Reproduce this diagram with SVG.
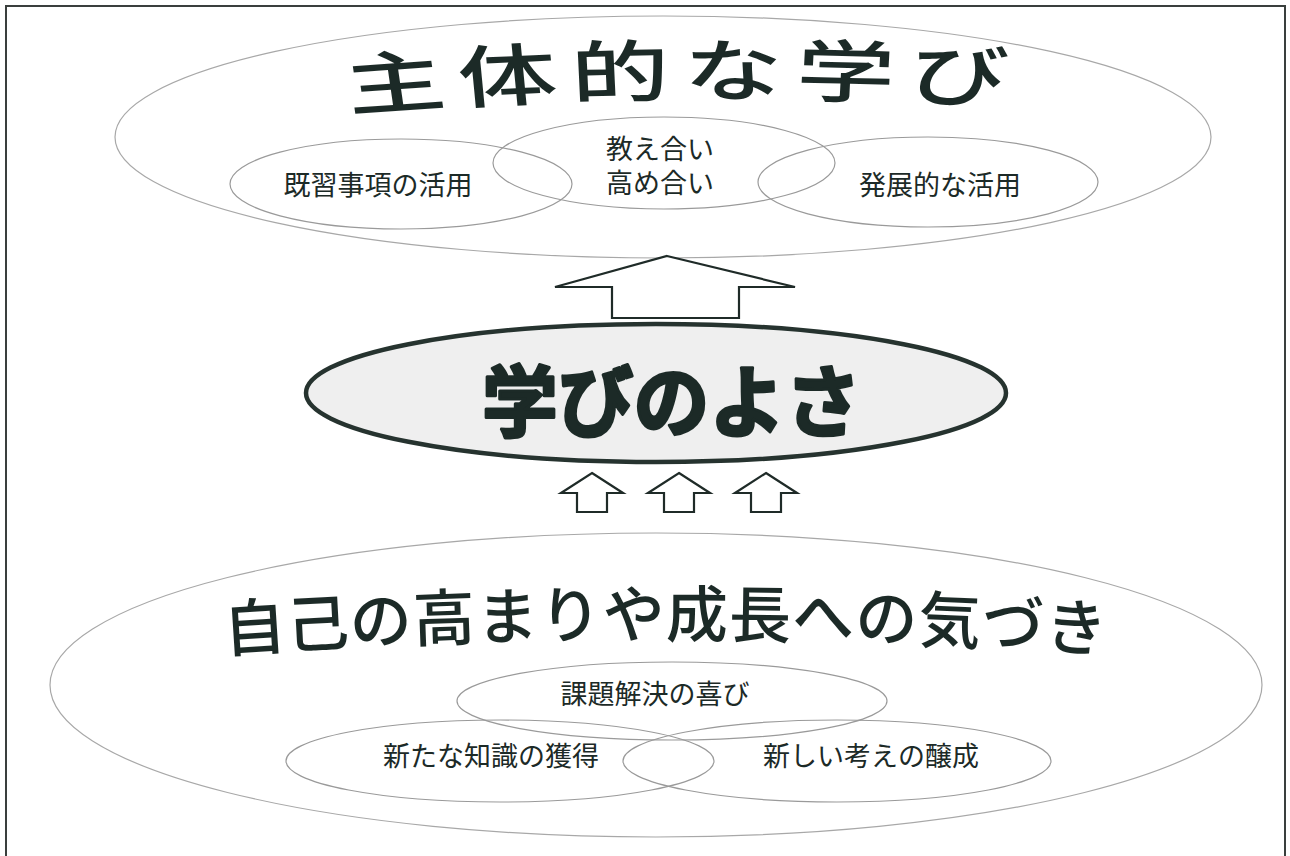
<svg xmlns="http://www.w3.org/2000/svg" width="1290" height="856" viewBox="0 0 1290 856">
  <style>
    .thin { fill: none; stroke: #9a9a9a; stroke-width: 1.2; }
    .big { fill: #ffffff; stroke: #a8a8a8; stroke-width: 1.2; }
    .lbl { font-family: "Noto Sans CJK JP", "Noto Sans", sans-serif; font-size: 27px; font-weight: 400; fill: #1c2a27; }
    .title { font-family: "Noto Sans CJK JP", "Noto Sans", sans-serif; font-weight: 500; fill: #1c2a27; }
    .heavy { font-family: "Noto Sans CJK JP", "Noto Sans", sans-serif; font-weight: 700; fill: #1c2a27; stroke: #1c2a27; stroke-width: 3; stroke-linejoin: round; }
    .arrow { fill: #ffffff; stroke: #1f2b28; stroke-width: 2.2; stroke-linejoin: miter; }
  </style>
  <defs>
    <path id="topArc" d="M241,111 Q472,84 703,104"/>
    <path id="botArc" d="M225,652 Q664,622 1103,652"/>
  </defs>
  <rect x="0" y="0" width="1290" height="856" fill="#ffffff"/>
  <rect x="6" y="6" width="1279" height="900" fill="none" stroke="#3a3f3d" stroke-width="2"/>

  <g id="top-group">
    <ellipse class="big" cx="663" cy="137" rx="548" ry="121"/>
    <g transform="scale(1.45,1)">
      <text class="title" font-size="68" letter-spacing="9">
        <textPath href="#topArc" startOffset="0">主体的な学び</textPath>
      </text>
    </g>
  </g>

  <g id="node-kishu">
    <ellipse class="thin" cx="401" cy="184" rx="171" ry="45"/>
    <text class="lbl" x="378" y="195" text-anchor="middle">既習事項の活用</text>
  </g>
  <g id="node-oshieai">
    <ellipse class="thin" cx="664" cy="163" rx="171" ry="46"/>
    <text class="lbl" font-size="26" text-anchor="middle"><tspan x="660" y="159">教え合い</tspan><tspan x="660" y="193">高め合い</tspan></text>
  </g>
  <g id="node-hatten">
    <ellipse class="thin" cx="928" cy="182" rx="170" ry="45"/>
    <text class="lbl" x="940" y="195" text-anchor="middle">発展的な活用</text>
  </g>

  <g id="node-manabi">
    <ellipse cx="656" cy="393" rx="350" ry="69" fill="#efefef" stroke="#26332f" stroke-width="4.5"/>
    <text class="heavy" x="482" y="431" font-size="78" textLength="379" lengthAdjust="spacingAndGlyphs">学びのよさ</text>
  </g>

  <g id="bottom-group">
    <ellipse class="big" cx="656" cy="685" rx="606" ry="152"/>
    <text class="title" font-size="62" letter-spacing="1">
      <textPath href="#botArc" startOffset="0">自己の高まりや成長への気づき</textPath>
    </text>
  </g>

  <g id="node-kadai">
    <ellipse class="thin" cx="672" cy="701" rx="215" ry="39"/>
    <text class="lbl" x="655" y="704" text-anchor="middle">課題解決の喜び</text>
  </g>
  <g id="node-chishiki">
    <ellipse class="thin" cx="500" cy="761" rx="214" ry="41"/>
    <text class="lbl" x="491" y="766" text-anchor="middle">新たな知識の獲得</text>
  </g>
  <g id="node-kangae">
    <ellipse class="thin" cx="837" cy="761" rx="214" ry="41"/>
    <text class="lbl" x="871" y="766" text-anchor="middle">新しい考えの醸成</text>
  </g>

  <g id="connectors">
    <polygon class="arrow" points="667,256 795,287 739,287 739,318 612,318 612,287 555,287"/>
    <polygon class="arrow" stroke-width="2.8" points="592,473 623,493 607,493 607,512 577,512 577,493 561,493"/>
    <polygon class="arrow" stroke-width="2.8" points="679,473 710,493 694,493 694,512 664,512 664,493 648,493"/>
    <polygon class="arrow" stroke-width="2.8" points="766,473 797,493 781,493 781,512 751,512 751,493 735,493"/>
  </g>
</svg>
